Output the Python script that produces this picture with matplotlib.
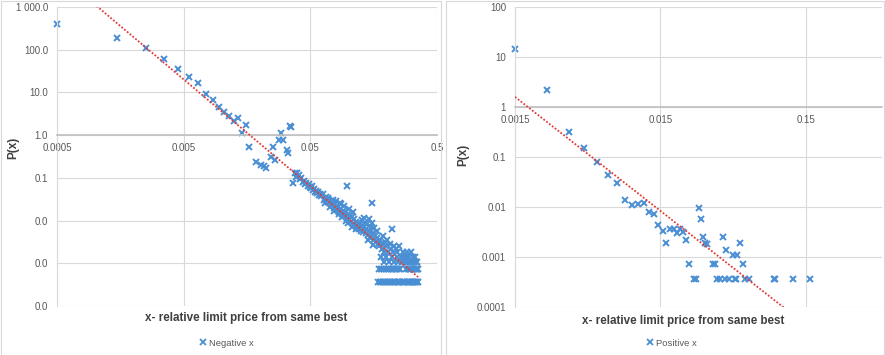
import numpy as np
import matplotlib.pyplot as plt
from matplotlib.lines import Line2D
from matplotlib.patches import Rectangle

plt.rcParams['font.family'] = ['Liberation Sans', 'DejaVu Sans']

BLUE = '#4a8fd4'
RED = '#e53935'
GRID = '#d9d9d9'
TXT = '#595959'

# ---- negative side: P(x) per 0.001-wide bin ----
neg_head_x = [0.0005, 0.0015, 0.0025, 0.0035, 0.0045, 0.0055, 0.0065, 0.0075, 0.0085, 0.0095,
              0.0105, 0.0115, 0.0125, 0.0135, 0.0145, 0.0155, 0.0165, 0.0185, 0.0205, 0.0215,
              0.0225, 0.0245, 0.0255, 0.0265, 0.0285, 0.0295, 0.0305, 0.0325, 0.0335, 0.0345,
              0.0355]
neg_head_p = [390, 190, 111, 60, 35, 23, 17, 9.1, 6.6, 4.6,
              3.4, 2.8, 2.2, 2.46, 1.1, 1.7, 0.53, 0.237, 0.198, 0.19,
              0.166, 0.30, 0.53, 0.26, 0.76, 1.13, 0.76, 0.46, 0.386, 1.6,
              1.55]

neg_band_x = [0.0365, 0.0375, 0.0385, 0.0395, 0.0405, 0.0415, 0.0425, 0.0435, 0.0445, 0.0455,
              0.0465, 0.0475, 0.0485, 0.0495, 0.0505, 0.0515, 0.0525, 0.0535, 0.0545, 0.0555,
              0.0565, 0.0575, 0.0585, 0.0595,
              0.0605, 0.0625, 0.0645, 0.0665, 0.0685, 0.0705, 0.0725, 0.0745, 0.0765, 0.0785,
              0.0805, 0.0825, 0.0845, 0.0865, 0.0885, 0.0905, 0.0925, 0.0945, 0.0965, 0.0975,
              0.0985, 0.1005, 0.1025, 0.1045, 0.1065, 0.1085, 0.1105, 0.1125, 0.1145, 0.1165,
              0.1185,
              0.0795, 0.0855, 0.0915, 0.1015, 0.1095, 0.0835, 0.0955,
              0.0655, 0.0715, 0.0775, 0.0895, 0.0995, 0.1075, 0.1155, 0.0695, 0.0755, 0.0875]
neg_band_p = [0.074, 0.128, 0.105, 0.132, 0.116, 0.092, 0.098, 0.079, 0.086, 0.072,
              0.077, 0.066, 0.070, 0.061, 0.057, 0.063, 0.052, 0.055, 0.047, 0.050,
              0.044, 0.046, 0.040, 0.043,
              0.037, 0.041, 0.031, 0.035, 0.027, 0.031, 0.024, 0.028, 0.020, 0.025,
              0.018, 0.021, 0.016, 0.019, 0.014, 0.017, 0.013, 0.016, 0.0115, 0.064,
              0.014, 0.0105, 0.013, 0.0095, 0.012, 0.0085, 0.0108, 0.0078, 0.0095, 0.0068,
              0.0088,
              0.029, 0.026, 0.022, 0.019, 0.016, 0.014, 0.0098,
              0.026, 0.021, 0.017, 0.012, 0.0088, 0.0072, 0.0062, 0.034, 0.030, 0.024]

neg_wide_x = [0.1205, 0.1225, 0.1245, 0.1265, 0.1285, 0.1305, 0.1325, 0.1345, 0.1365, 0.1385,
              0.1405, 0.1425, 0.1445, 0.1465, 0.1485, 0.1505, 0.1525, 0.1545, 0.1565, 0.1585,
              0.1605, 0.1625, 0.1645, 0.1665, 0.1685, 0.1705, 0.1315, 0.1435, 0.1575]
neg_wide_p = [0.0062, 0.0085, 0.0058, 0.0075, 0.0101, 0.0054, 0.0072, 0.0090, 0.0050, 0.0065,
              0.0083, 0.0047, 0.0108, 0.0058, 0.0040, 0.0072, 0.0090, 0.026, 0.0050, 0.0036,
              0.0068, 0.0043, 0.0032, 0.0058, 0.0040, 0.0029, 0.0118, 0.0035, 0.0027]

neg_tail_x = [0.1755, 0.1785, 0.1805, 0.1825, 0.1855, 0.1875, 0.1895, 0.1915, 0.1935, 0.1965,
              0.1995, 0.2025, 0.2055, 0.2085, 0.2125, 0.2165, 0.2205, 0.2225, 0.2245, 0.2275,
              0.2305, 0.2355, 0.2395, 0.2425, 0.2475, 0.2525, 0.2585, 0.2635, 0.2685, 0.2745,
              0.2795, 0.2845, 0.2905, 0.2965, 0.3025, 0.3095, 0.3145, 0.3185, 0.3245, 0.3305,
              0.3365, 0.3425, 0.3485]
neg_tail_p = [0.0025, 0.0036, 0.0014, 0.0029, 0.0022, 0.0043, 0.0018, 0.0011, 0.0032, 0.0025,
              0.0014, 0.0036, 0.0018, 0.0011, 0.0029, 0.0022, 0.0062, 0.0014, 0.0018, 0.0025,
              0.0011, 0.0022, 0.0014, 0.0018, 0.0011, 0.0025, 0.0014, 0.0011, 0.0018, 0.0014,
              0.0011, 0.0014, 0.0018, 0.0011, 0.0014, 0.0011, 0.0018, 0.0011, 0.0014, 0.0011,
              0.0014, 0.0011, 0.0011]

# bins holding a single order / two orders
neg_row1_p = 0.00036
neg_row1_x = [0.1725, 0.1775, 0.1815, 0.1865, 0.1905, 0.1955, 0.2005, 0.2065, 0.2115, 0.2175,
              0.2235, 0.2285, 0.2345, 0.2405, 0.2455, 0.2515, 0.2575, 0.2625, 0.2695, 0.2755,
              0.2815, 0.2875, 0.2935, 0.2995, 0.3055, 0.3115, 0.3175, 0.3235, 0.3295, 0.3355,
              0.3415, 0.3475, 0.3535]
neg_row2_p = 0.00072
neg_row2_x = [0.1735, 0.1795, 0.1845, 0.1925, 0.1985, 0.2045, 0.2095, 0.2155, 0.2215, 0.2265,
              0.2325, 0.2385, 0.2435, 0.2495, 0.2545, 0.2865, 0.2925, 0.2985, 0.3045, 0.3085,
              0.3145, 0.3205, 0.3265, 0.3325, 0.3385, 0.3445, 0.3505, 0.3545]

# ---- positive side ----
pos_x = [0.0015, 0.0025, 0.0035, 0.0045, 0.0055, 0.0065, 0.0075, 0.0085, 0.0095, 0.0105,
         0.0115, 0.0125, 0.0135, 0.0145, 0.0155, 0.0165, 0.0175, 0.0185, 0.0195, 0.0205,
         0.0215, 0.0225, 0.0235, 0.0255, 0.0265, 0.0275, 0.0285, 0.0295, 0.0305, 0.0315,
         0.0345, 0.0355, 0.0365, 0.0385, 0.0405, 0.0415, 0.0425, 0.0445, 0.0475, 0.0485,
         0.0495, 0.0505, 0.0525, 0.0555, 0.0575, 0.0605, 0.0905, 0.0925, 0.1215, 0.1605]
pos_p = [14.3, 2.19, 0.31, 0.149, 0.081, 0.0437, 0.0297, 0.0138, 0.011, 0.0114,
         0.0122, 0.0081, 0.0071, 0.0044, 0.0033, 0.0019, 0.0036, 0.0036, 0.0030, 0.0037,
         0.0032, 0.0022, 0.00072, 0.00036, 0.00036, 0.0094, 0.0057, 0.00255, 0.0019, 0.0018,
         0.00072, 0.00072, 0.00036, 0.00036, 0.00255, 0.00036, 0.0014, 0.00036, 0.0011, 0.00036,
         0.00036, 0.0011, 0.0019, 0.00072, 0.00036, 0.00036, 0.00036, 0.00036, 0.00036, 0.00036]

# power-law trendlines  P = a * x^b
neg_trend_a, neg_trend_b = 3.57e-5, -2.5
pos_trend_a, pos_trend_b = 5.8e-7, -2.28

neg_xticks = [0.0005, 0.005, 0.05, 0.5]
neg_xlabels = ['0.0005', '0.005', '0.05', '0.5']
neg_yticks = [1e-4, 1e-3, 1e-2, 1e-1, 1, 10, 100, 1000]
neg_ylabels = ['0.0', '0.0', '0.0', '0.1', '1.0', '10.0', '100.0', '1 000.0']
pos_xticks = [0.0015, 0.015, 0.15]
pos_xlabels = ['0.0015', '0.015', '0.15']
pos_yticks = [1e-4, 1e-3, 1e-2, 1e-1, 1, 10, 100]
pos_ylabels = ['0.0001', '0.001', '0.01', '0.1', '1', '10', '100']

xlabel = 'x- relative limit price from same best'


def style(ax, xlim, ylim, xt, xl, yt, yl):
    ax.set_xscale('log')
    ax.set_yscale('log')
    ax.set_xlim(*xlim)
    ax.set_ylim(*ylim)
    ax.set_xticks(xt, xl)
    ax.set_yticks(yt, yl)
    ax.minorticks_off()
    ax.grid(True, color=GRID, lw=0.8)
    ax.set_axisbelow(True)
    ax.spines['top'].set_visible(False)
    ax.spines['right'].set_visible(False)
    ax.spines['left'].set_color(GRID)
    ax.spines['bottom'].set_position(('data', 1))
    ax.spines['bottom'].set_color('#bfbfbf')
    ax.spines['bottom'].set_linewidth(1.2)
    ax.tick_params(axis='both', length=0, labelsize=7, labelcolor=TXT)
    ax.tick_params(axis='x', pad=5.5)
    ax.tick_params(axis='y', pad=6.5)


def series(ax, x, p, a, b):
    ax.plot(x, p, 'x', ms=5, mew=1.4, color=BLUE, zorder=2, clip_on=False)
    xs = np.geomspace(min(x), max(x), 200)
    ax.plot(xs, a * xs ** b, color=RED, lw=1.3, ls=(0, (1, 1)), zorder=3)


fig = plt.figure(figsize=(8.85, 3.55), dpi=100)

# chart frames
fig.patches.append(Rectangle((0.5 / 885, 0.5 / 355), 440 / 885, 354 / 355, transform=fig.transFigure,
                             fill=False, ec=GRID, lw=0.8))
fig.patches.append(Rectangle((446 / 885, 0.5 / 355), 438 / 885, 354 / 355, transform=fig.transFigure,
                             fill=False, ec=GRID, lw=0.8))

ax1 = fig.add_axes([57 / 885, 49 / 355, 380 / 885, 299 / 355])
style(ax1, (0.0005, 0.5), (1e-4, 1000), neg_xticks, neg_xlabels, neg_yticks, neg_ylabels)
neg_x = neg_head_x + neg_band_x + neg_wide_x + neg_tail_x + neg_row1_x + neg_row2_x
neg_p = (neg_head_p + neg_band_p + neg_wide_p + neg_tail_p
         + [neg_row1_p] * len(neg_row1_x) + [neg_row2_p] * len(neg_row2_x))
series(ax1, neg_x, neg_p, neg_trend_a, neg_trend_b)

ax2 = fig.add_axes([515 / 885, 48 / 355, 367 / 885, 300 / 355])
style(ax2, (0.0015, 0.5), (1e-4, 100), pos_xticks, pos_xlabels, pos_yticks, pos_ylabels)
series(ax2, pos_x, pos_p, pos_trend_a, pos_trend_b)

# axis titles
for xpos, ypos in [(13, 148), (463, 155)]:
    fig.text(xpos / 885, 1 - ypos / 355, 'P(x)', rotation=90, ha='center', va='center',
             fontsize=8.5, fontweight='bold', color='#404040')
for xpos, ypos in [(246, 318), (683, 321)]:
    fig.text(xpos / 885, 1 - ypos / 355, xlabel, ha='center', va='center',
             fontsize=8.4, fontweight='bold', color='#404040')

# legends
for ax, name, cx in [(ax1, 'Negative x', 227), (ax2, 'Positive x', 672)]:
    h = Line2D([], [], ls='none', marker='x', ms=4, mew=1.3, color=BLUE)
    ax.legend([h], [name], loc='center', bbox_to_anchor=(cx / 885, 1 - 343 / 355),
              bbox_transform=fig.transFigure, frameon=False, fontsize=6.8,
              handlelength=0.6, handletextpad=0.3, labelcolor=TXT)

fig.savefig('out.png', dpi=100)
